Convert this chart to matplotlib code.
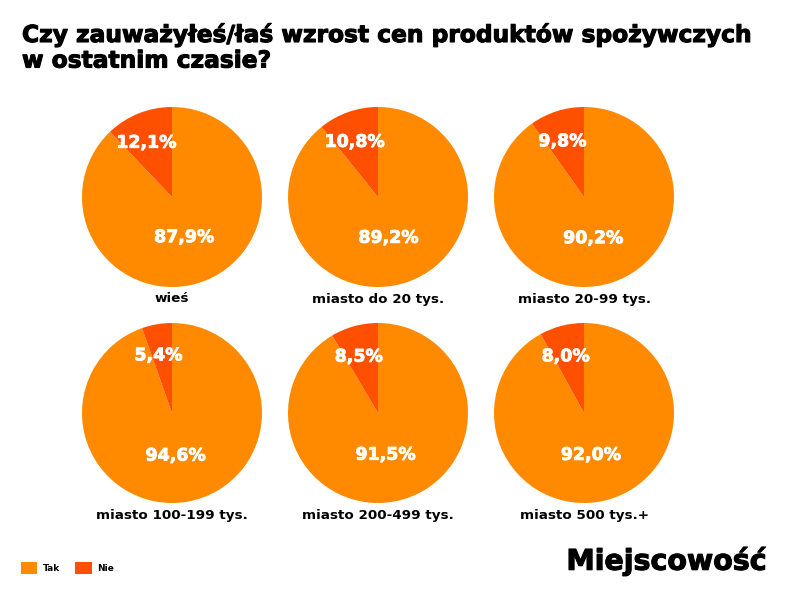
import matplotlib
matplotlib.use("Agg")
import matplotlib.pyplot as plt
import matplotlib.patheffects as pe
from matplotlib.patches import Patch
import numpy as np

plt.rcParams['font.family'] = ['DejaVu Sans']

categories = ["wieś", "miasto do 20 tys.", "miasto 20-99 tys.",
              "miasto 100-199 tys.", "miasto 200-499 tys.", "miasto 500 tys.+"]
tak = [87.9, 89.2, 90.2, 94.6, 91.5, 92.0]
nie = [12.1, 10.8, 9.8, 5.4, 8.5, 8.0]
series = ["Tak", "Nie"]
colors = ["#FF8A00", "#FF4F00"]

W, H = 800, 600
fig = plt.figure(figsize=(8, 6), dpi=100)

heavy = [pe.withStroke(linewidth=0.8, foreground="black")]

fig.text(22 / W, 1 - 23 / H,
         "Czy zauważyłeś/łaś wzrost cen produktów spożywczych\nw ostatnim czasie?",
         ha="left", va="top", fontsize=16.8, fontweight="bold", linespacing=1.14,
         path_effects=heavy)

centers_x = [172, 378, 584]
centers_y = [197, 413]
r = 90

for i, cat in enumerate(categories):
    cx = centers_x[i % 3]
    cy = centers_y[i // 3]
    ax = fig.add_axes([(cx - r) / W, 1 - (cy + r) / H, 2 * r / W, 2 * r / H])
    wedges, _ = ax.pie([tak[i], nie[i]], colors=colors, startangle=90,
                       counterclock=False, radius=1)
    ax.set_xlim(-1, 1)
    ax.set_ylim(-1, 1)
    ax.set_aspect("equal")
    dists = [0.47, 0.66]
    for w, d, v in zip(wedges, dists, [tak[i], nie[i]]):
        ang = np.deg2rad((w.theta1 + w.theta2) / 2)
        ax.text(d * np.cos(ang) - 0.04, d * np.sin(ang) - 0.01,
                f"{v:.1f}%".replace(".", ","),
                ha="center", va="center", color="white", fontsize=12.5,
                fontweight="bold",
                path_effects=[pe.withStroke(linewidth=0.6, foreground="white")])
    fig.text(cx / W, 1 - (cy + r + 12) / H, cat, ha="center", va="center",
             fontsize=9.7, fontweight="bold")

handles = [Patch(facecolor=c, label=s) for c, s in zip(colors, series)]
fig.legend(handles=handles, loc="center left", bbox_to_anchor=(13 / W, 1 - 568 / H),
           ncol=2, frameon=False, handlelength=1.8, handleheight=1.8,
           columnspacing=1.7, handletextpad=0.6, prop={'weight': 'bold', 'size': 6.5})

fig.text(767 / W, 1 - 561 / H, "Miejscowość", ha="right", va="center",
         fontsize=20.5, fontweight="bold", path_effects=heavy)

fig.savefig("out.png", dpi=100, facecolor="white")
